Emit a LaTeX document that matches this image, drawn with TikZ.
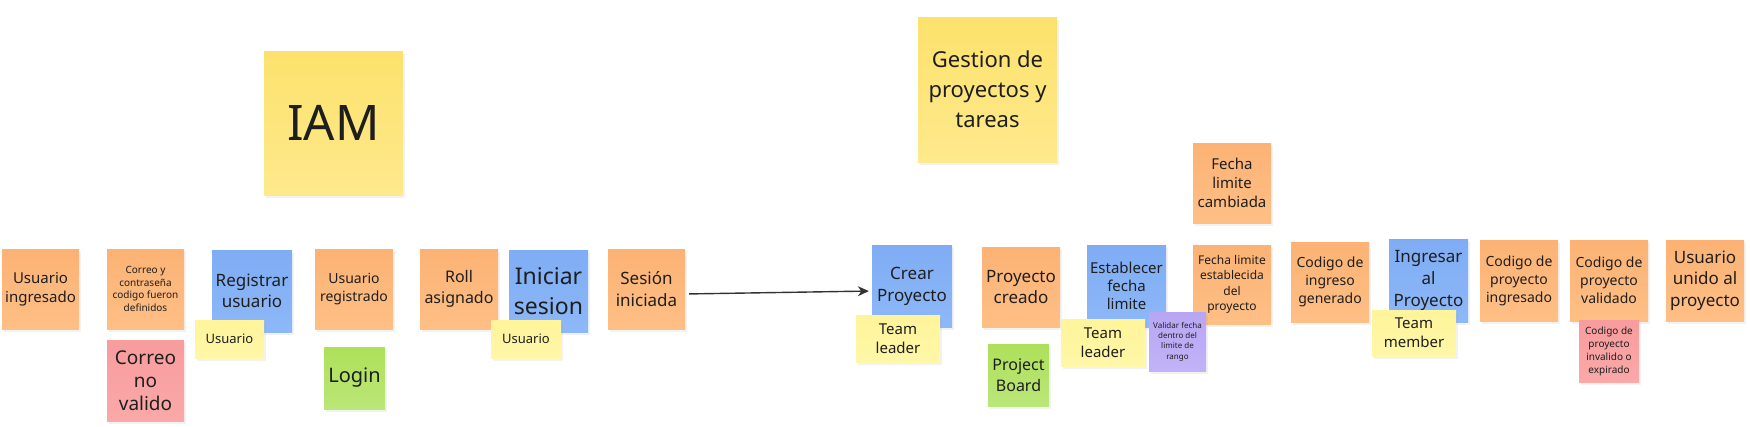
\documentclass[tikz,border=0pt]{standalone}
\usepackage{fontspec}
\setmainfont{Noto Sans}
\usetikzlibrary{arrows.meta,positioning,shadows}

\definecolor{orangetop}{HTML}{FCB274}
\definecolor{orangebot}{HTML}{FEBF85}
\definecolor{bluetop}{HTML}{7FACF4}
\definecolor{bluebot}{HTML}{8DB8F8}
\definecolor{tagtop}{HTML}{FFF49A}
\definecolor{tagbot}{HTML}{FFF7A8}
\definecolor{bigtop}{HTML}{FCE26C}
\definecolor{bigbot}{HTML}{FEE98C}
\definecolor{redtop}{HTML}{F89C9E}
\definecolor{redbot}{HTML}{FAA8A8}
\definecolor{greentop}{HTML}{AEE05A}
\definecolor{greenbot}{HTML}{BBE679}
\definecolor{purpletop}{HTML}{B8A6F4}
\definecolor{purplebot}{HTML}{C2B2F7}
\definecolor{inktext}{HTML}{1E1E1E}

\begin{document}
\begin{tikzpicture}[
        x=1pt, y=-1pt,
    note/.style={
        rectangle,
        inner sep=2pt,
        align=center,
        text=inktext,
        drop shadow={shadow xshift=1.5pt, shadow yshift=-3pt, opacity=0.10}},
    sz/.style 2 args={minimum width=#1pt, minimum height=#2pt},
    fs/.style 2 args={font=\fontsize{#1}{#2}\selectfont},
    orangenote/.style={note, top color=orangetop, bottom color=orangebot},
    bluenote/.style={note, top color=bluetop, bottom color=bluebot},
    tagnote/.style={note, top color=tagtop, bottom color=tagbot},
    bignote/.style={note, top color=bigtop, bottom color=bigbot},
    rednote/.style={note, top color=redtop, bottom color=redbot},
    greennote/.style={note, top color=greentop, bottom color=greenbot},
    purplenote/.style={note, top color=purpletop, bottom color=purplebot},
    myarrow/.style={-{Stealth[length=11pt, width=10pt]}, line width=1.4pt, draw=black!80}
    ]
    \useasboundingbox (0,0) rectangle (1750,426);

    % titles
    \node[bignote, sz={139}{144}, fs={49}{58}] (iam) at (333.5,123) {IAM};
    \node[bignote, sz={139}{145}, fs={22}{30}] (gp) at (987.5,89.5) {Gestion de\\proyectos y\\tareas};

    % IAM
    \node[orangenote, sz={77}{80}, fs={15}{19}] (ui) at (40.5,289) {Usuario\\ingresado};
    \node[orangenote, sz={77}{80}, fs={10}{12.5}] (cc) at (145.5,289) {Correo y\\contraseña\\codigo fueron\\definidos};
    \node[rednote, sz={77}{81}, fs={19}{23}] (cnv) at (145.5,380.5) {Correo\\no\\valido};
    \node[bluenote, sz={80}{82}, fs={17}{21}] (ru) at (252,291) {Registrar\\usuario};
    \node[tagnote, sz={69}{38}, fs={13}{16}] (us1) at (229.5,339) {Usuario};
    \node[orangenote, sz={78}{80}, fs={14}{18}] (ur) at (354,289) {Usuario\\registrado};
    \node[greennote, sz={61}{62}, fs={20}{24}] (login) at (354.5,378) {Login};
    \node[orangenote, sz={78}{80}, fs={16}{21}] (ra) at (459,289) {Roll\\asignado};
    \node[bluenote, sz={79}{82}, fs={23}{30}] (is) at (548.5,291) {Iniciar\\sesion};
    \node[tagnote, sz={70}{38}, fs={13}{16}] (us2) at (526,339) {Usuario};
    \node[orangenote, sz={77}{80}, fs={17}{22}] (si) at (646.5,289) {Sesión\\iniciada};

    % proyectos
    \node[bluenote, sz={80}{82}, fs={17}{22}] (cp) at (912,286) {Crear\\Proyecto};
    \node[tagnote, sz={84}{47}, fs={15}{19}] (tl1) at (898,338.5) {Team\\leader};
    \node[orangenote, sz={78}{80}, fs={17}{21}] (pc) at (1021,287) {Proyecto\\creado};
    \node[greennote, sz={61}{62}, fs={16}{21}] (pb) at (1018.5,375) {Project\\Board};
    \node[bluenote, sz={79}{82}, fs={15}{18}] (ef) at (1126.5,286) {Establecer\\fecha\\limite};
    \node[tagnote, sz={84}{47}, fs={15}{19}] (tl2) at (1103,342.5) {Team\\leader};
    \node[orangenote, sz={78}{80}, fs={15}{19}] (flc) at (1232,183) {Fecha\\limite\\cambiada};
    \node[orangenote, sz={78}{79}, fs={12}{15.5}] (fle) at (1232,284.5) {Fecha limite\\establecida\\del\\proyecto};
    \node[purplenote, sz={57}{59}, fs={8}{10.3}] (vf) at (1177.5,341.5) {Validar fecha\\dentro del\\limite de\\rango};
    \node[orangenote, sz={78}{80}, fs={14}{18}] (cig) at (1330,282) {Codigo de\\ingreso\\generado};
    \node[bluenote, sz={79}{83}, fs={17}{22}] (ip) at (1428.5,280.5) {Ingresar\\al\\Proyecto};
    \node[tagnote, sz={84}{46}, fs={15}{19}] (tm) at (1414,333) {Team\\member};
    \node[orangenote, sz={78}{81}, fs={14}{18}] (cpi) at (1519,280.5) {Codigo de\\proyecto\\ingresado};
    \node[orangenote, sz={78}{81}, fs={14}{18}] (cpv) at (1609,280.5) {Codigo de\\proyecto\\validado};
    \node[rednote, sz={60}{62}, fs={10}{13}] (cinv) at (1609,351) {Codigo de\\proyecto\\invalido o\\expirado};
    \node[orangenote, sz={78}{81}, fs={17}{21.5}] (uup) at (1705,280.5) {Usuario\\unido al\\proyecto};

    \draw [myarrow, shorten <=4pt, shorten >=3pt] ([yshift=-5pt]si.east) -- ([yshift=-5pt]cp.west);
    \end{tikzpicture}
\end{document}
